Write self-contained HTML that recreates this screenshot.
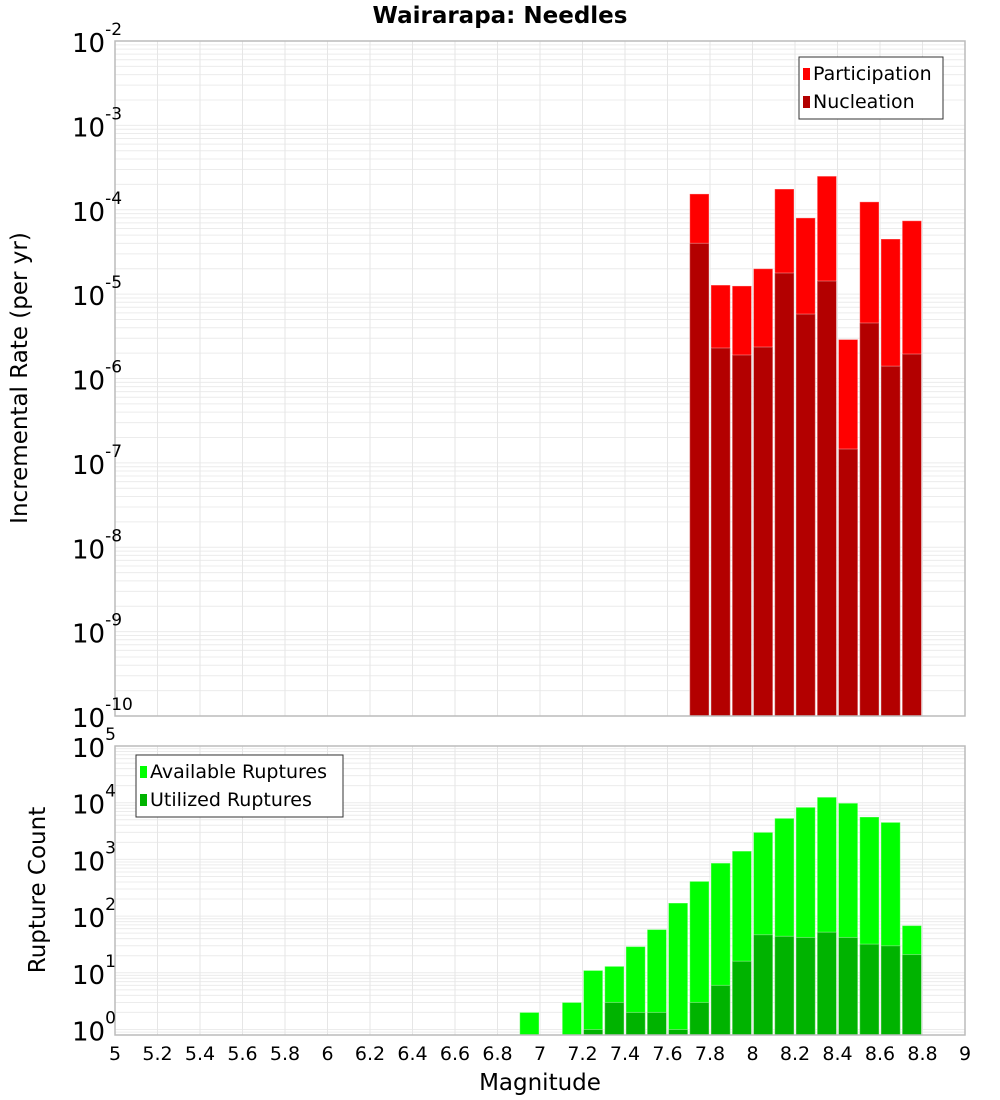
<!DOCTYPE html>
<html><head><meta charset="utf-8"><style>
body{margin:0;background:#fff}
svg{display:block;font-family:"DejaVu Sans","Liberation Sans",sans-serif}
</style></head><body>
<svg id="c" width="1000" height="1100" xmlns="http://www.w3.org/2000/svg"></svg>
<script>
const rateMags=[7.7,7.8,7.9,8.0,8.1,8.2,8.3,8.4,8.5,8.6,8.7];
const participation=[1.54e-4,1.28e-5,1.25e-5,2.0e-5,1.76e-4,8.0e-5,2.5e-4,2.9e-6,1.24e-4,4.5e-5,7.4e-5];
const nucleation=[4.0e-5,2.3e-6,1.9e-6,2.36e-6,1.78e-5,5.8e-6,1.43e-5,1.46e-7,4.55e-6,1.4e-6,1.95e-6];
const countMags=[6.9,7.1,7.2,7.3,7.4,7.5,7.6,7.7,7.8,7.9,8.0,8.1,8.2,8.3,8.4,8.5,8.6,8.7];
const available=[2,3,11,13,29,58,170,410,860,1400,3000,5300,8300,12500,9800,5600,4500,68];
const utilized=[0,0,1,3,2,2,1,3,6,16,47,44,42,52,42,32,30,21];
const xTicks=[5,5.2,5.4,5.6,5.8,6,6.2,6.4,6.6,6.8,7,7.2,7.4,7.6,7.8,8,8.2,8.4,8.6,8.8,9];
const rateExps=[-2,-3,-4,-5,-6,-7,-8,-9,-10];
const countExps=[5,4,3,2,1,0];

const NS="http://www.w3.org/2000/svg";
const svg=document.getElementById('c');
function el(t,a,p){const e=document.createElementNS(NS,t);for(const k in a)e.setAttribute(k,a[k]);(p||svg).appendChild(e);return e;}
const X0=115,X1=965;
const xs=m=>X0+(m-5)/4*(X1-X0);
const T={top:41,bot:716,lo:-10,hi:-2};
const B={top:746,bot:1035,lo:Math.log10(0.8),hi:5};
const ys=(P,v)=>P.bot-(Math.log10(v)-P.lo)/(P.hi-P.lo)*(P.bot-P.top);

function grid(P,name){
  const g=el('g',{});
  
  
  for(let d=Math.floor(P.lo);d<P.hi;d++)for(let k=1;k<10;k++){
    const v=k*Math.pow(10,d);const y=ys(P,v);
    if(y<P.top-0.5||y>P.bot+0.5)continue;
    el('line',{x1:X0,x2:X1,y1:y,y2:y,stroke:'#ececec','stroke-width':1},g);
  }
  xTicks.forEach(t=>{const x=xs(t);el('line',{x1:x,x2:x,y1:P.top,y2:P.bot,stroke:'#e6e6e6','stroke-width':1},g);});
}
grid(T,'rate');grid(B,'count');

function bar(P,m,v,fill,name){
  if(!(v>0))return;
  const y=Math.max(P.top,ys(P,v));
  const r=el('rect',{x:xs(m)+1,y:y,width:xs(m+0.1)-xs(m)-2,height:P.bot-y,fill:fill,stroke:'#fff','stroke-opacity':0.35,'stroke-width':1});
  
  
}
rateMags.forEach((m,i)=>bar(T,m,participation[i],'#ff0000','participation-bar'));
rateMags.forEach((m,i)=>bar(T,m,nucleation[i],'#b30000','nucleation-bar'));
countMags.forEach((m,i)=>bar(B,m,available[i],'#00ff00','available-bar'));
countMags.forEach((m,i)=>bar(B,m,utilized[i],'#00b300','utilized-bar'));

[T,B].forEach((P,i)=>{const f=el('rect',{x:X0,y:P.top,width:X1-X0,height:P.bot-P.top,fill:'none',stroke:'#bbb','stroke-width':1.5});

});

function ylab(P,exps,name){
  exps.forEach(e=>{const y=ys(P,Math.pow(10,e));
    const t=el('text',{x:72,y:y+11,'font-size':26,fill:'#000'});
    
    
    t.textContent='10';
    const s=el('tspan',{dy:-17,'font-size':17},t);s.textContent=String(e);
  });
}
ylab(T,rateExps,'rate-y-tick');ylab(B,countExps,'count-y-tick');

xTicks.forEach(t=>{const tx=el('text',{x:xs(t),y:1060,'font-size':19,'text-anchor':'middle',fill:'#000'});


tx.textContent=String(t);});

function txt(s,a,name){const t=el('text',a);t.textContent=s;return t;}
txt('Wairarapa: Needles',{x:500,y:23,'font-size':23,'font-weight':'bold','text-anchor':'middle'},'chart-title');
txt('Magnitude',{x:540,y:1090,'font-size':23,'text-anchor':'middle'},'x-axis-title');
txt('Incremental Rate (per yr)',{x:0,y:0,'font-size':23,'text-anchor':'middle',transform:'translate(27,378) rotate(-90)'},'rate-y-axis-title');
txt('Rupture Count',{x:0,y:0,'font-size':23,'text-anchor':'middle',transform:'translate(45,890) rotate(-90)'},'count-y-axis-title');

function legend(x,y,w,items,name){
  const g=el('g',{});
  el('rect',{x:x,y:y,width:w,height:62,fill:'#fff',stroke:'#333','stroke-width':1},g);
  items.forEach((it,i)=>{el('rect',{x:x+4,y:y+11+i*28,width:7,height:12,fill:it[1]},g);
    const t=el('text',{x:x+14,y:y+23+i*28,'font-size':19},g);t.textContent=it[0];});
}
legend(799,57,144,[['Participation','#ff0000'],['Nucleation','#b30000']],'rate-legend');
legend(136,755,207,[['Available Ruptures','#00ff00'],['Utilized Ruptures','#00b300']],'count-legend');
</script>
</body></html>
